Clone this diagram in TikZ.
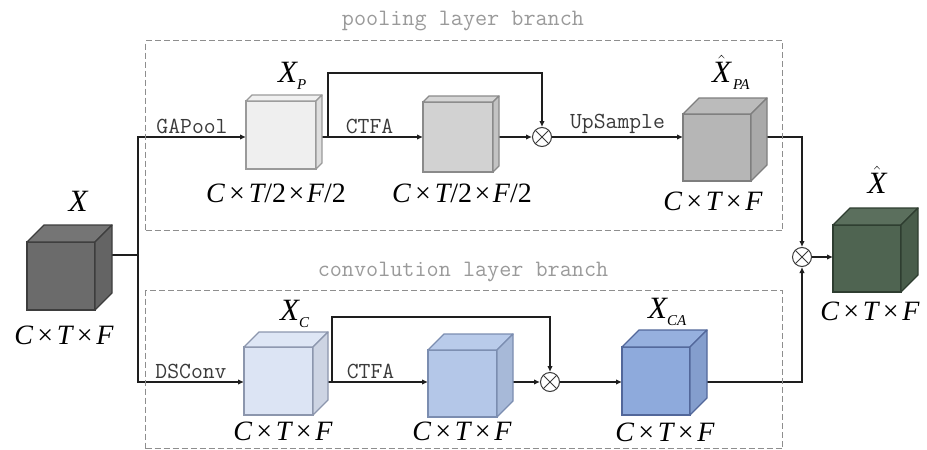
\documentclass[tikz,border=0pt]{standalone}
\usepackage{fontspec}
\setmainfont{Liberation Serif}
\usetikzlibrary{arrows.meta,backgrounds}

\definecolor{inkline}{HTML}{1E1E1E}
\definecolor{boxgray}{HTML}{8E8E8E}
\definecolor{titlegray}{HTML}{9A9A9A}
\definecolor{opgray}{HTML}{3A3A3A}
\definecolor{xinfill}{HTML}{6B6B6B}\definecolor{xinedge}{HTML}{3D3D3D}
\definecolor{xpfill}{HTML}{EFEFEF}\definecolor{xpedge}{HTML}{9A9A9A}
\definecolor{pcfill}{HTML}{D2D2D2}\definecolor{pcedge}{HTML}{8A8A8A}
\definecolor{xpafill}{HTML}{B6B6B6}\definecolor{xpaedge}{HTML}{7E7E7E}
\definecolor{outfill}{HTML}{4F6451}\definecolor{outedge}{HTML}{2E3D30}
\definecolor{xcfill}{HTML}{DCE4F4}\definecolor{xcedge}{HTML}{8C96AD}
\definecolor{ccfill}{HTML}{B4C7E8}\definecolor{ccedge}{HTML}{7B8DB0}
\definecolor{xcafill}{HTML}{8EAADC}\definecolor{xcaedge}{HTML}{52679A}

% sub-index set low and small, as in X_P
\newcommand\lowidx[1]{\raisebox{-7pt}{\fontsize{15}{15}\selectfont\itshape #1}}
\newcommand\hatX{$\hat{\mbox{\itshape X}}$}
\newcommand\dimsep{\hspace{2.5pt}×\hspace{2.5pt}}

% cube: name, x, y of front top-left corner, width, height, depth, fill, edge
\newcommand\cubebox[8]{%
  \node[cubeface, fill=#7, draw=#8, minimum width=#4pt, minimum height=#5pt] (#1) at (#2,#3) {};
  \draw[cubeedge, fill=#7!93!white, draw=#8] (#1.north west) -- ++(#6,-#6) -- ++(#4,0) -- (#1.north east) -- cycle;
  \draw[cubeedge, fill=#7!93!black, draw=#8] (#1.north east) -- ++(#6,-#6) -- ++(0,#5) -- (#1.south east) -- cycle;
}

\begin{document}
\begin{tikzpicture}[x=1pt,y=-1pt,
  cubeface/.style={rectangle, anchor=north west, inner sep=0pt, outer sep=0pt, line width=1.3pt},
  cubeedge/.style={line width=1.3pt, line join=round},
  conn/.style={draw=inkline, line width=1.8pt},
  arr/.style={conn, -{Latex[length=6pt,width=5.5pt]}},
  mulop/.style={circle, draw=opgray, line width=1pt, minimum size=19pt, inner sep=0pt, fill=white,
    path picture={\draw[opgray, line width=1pt]
      (path picture bounding box.north west) -- (path picture bounding box.south east)
      (path picture bounding box.north east) -- (path picture bounding box.south west);}},
  branchbox/.style={draw=boxgray, line width=1.1pt, dash pattern=on 6pt off 3pt, anchor=north west, inner sep=0pt},
  branchtitle/.style={text=titlegray, font=\ttfamily\fontsize{23.5}{23.5}\selectfont, inner sep=0pt},
  oplabel/.style={text=opgray, font=\ttfamily\fontsize{23}{23}\selectfont, inner sep=2pt, above},
  dimlabel/.style={font=\fontsize{28}{28}\selectfont, inner sep=0pt},
  namelabel/.style={font=\fontsize{31}{31}\selectfont, inner sep=0pt}]

\useasboundingbox (0,0) rectangle (927,450);

% branch frames and their titles
\node[branchbox, minimum width=637pt, minimum height=190pt] (poolbox) at (145,40) {};
\node[branchtitle] (pooltitle) at (463,21) {pooling layer branch};
\node[branchbox, minimum width=637pt, minimum height=158pt] (convbox) at (145,290) {};
\node[branchtitle] (convtitle) at (463,272) {convolution layer branch};

% feature maps
\cubebox{xin}{27}{242}{68}{68}{17}{xinfill}{xinedge}
\cubebox{xp}{246}{101}{70}{68}{6}{xpfill}{xpedge}
\cubebox{pc}{423}{102}{70}{70}{6}{pcfill}{pcedge}
\cubebox{xpa}{683}{114}{68}{67}{16}{xpafill}{xpaedge}
\cubebox{out}{833}{225}{68}{67}{17}{outfill}{outedge}
\cubebox{xc}{244}{347}{69}{68}{15}{xcfill}{xcedge}
\cubebox{cc}{428}{350}{69}{67}{16}{ccfill}{ccedge}
\cubebox{xca}{622}{347}{68}{68}{17}{xcafill}{xcaedge}

% element-wise products
\node[mulop] (pmul) at (542,137) {};
\node[mulop] (cmul) at (550,382) {};
\node[mulop] (omul) at (802,257) {};

% names and sizes
\node[namelabel] (xinname) at (78,201) {\itshape X};
\node[dimlabel] (xindim) at (64,335) {\itshape C\dimsep T\dimsep F};
\node[namelabel, anchor=base west] (xpname) at (278,82) {\itshape X\lowidx{P}};
\node[dimlabel] (xpdim) at (276,193) {\itshape C\dimsep T\upshape/2\dimsep\itshape F\upshape/2};
\node[dimlabel] (pcdim) at (462,193) {\itshape C\dimsep T\upshape/2\dimsep\itshape F\upshape/2};
\node[namelabel, anchor=base west] (xpaname) at (712,82) {\hatX\hspace{2pt}\lowidx{PA}};
\node[dimlabel] (xpadim) at (713,201) {\itshape C\dimsep T\dimsep F};
\node[namelabel] (outname) at (877,180) {\hatX};
\node[dimlabel] (outdim) at (870,311) {\itshape C\dimsep T\dimsep F};
\node[namelabel, anchor=base west] (xcname) at (280,320) {\itshape X\lowidx{C}};
\node[dimlabel] (xcdim) at (283,431) {\itshape C\dimsep T\dimsep F};
\node[dimlabel] (ccdim) at (462,431) {\itshape C\dimsep T\dimsep F};
\node[namelabel, anchor=base west] (xcaname) at (648,318) {\itshape X\lowidx{CA}};
\node[dimlabel] (xcadim) at (665,432) {\itshape C\dimsep T\dimsep F};

% connectors, kept under the cubes
\coordinate (split) at (138,255);
\coordinate (poolrow) at (0,137);
\coordinate (convrow) at (0,382);
\coordinate (ptap) at (328,137);
\coordinate (ctap) at (332,382);
\begin{pgfonlayer}{background}
  \draw[conn] (xin.east |- split) -- (split);
  \draw[arr] (split) |- (xp.west |- poolrow) node[oplabel, pos=0.75] (gapool) {GAPool};
  \draw[arr] (xp.east |- poolrow) -- (pc.west |- poolrow) node[oplabel, midway] (pctfa) {CTFA};
  \draw[arr] (ptap) -- ++(0,-64) -| (pmul.north);
  \draw[arr] (pc.east |- poolrow) -- (pmul.west);
  \draw[arr] (pmul.east) -- (xpa.west |- poolrow) node[oplabel, midway] (upsample) {UpSample};
  \draw[arr] (xpa.east |- poolrow) -| (omul.north);
  \draw[arr] (omul.east) -- (out.west |- omul);
  \draw[arr] (split) |- (xc.west |- convrow) node[oplabel, pos=0.75] (dsconv) {DSConv};
  \draw[arr] (xc.east |- convrow) -- (cc.west |- convrow) node[oplabel, midway] (cctfa) {CTFA};
  \draw[arr] (ctap) -- ++(0,-65) -| (cmul.north);
  \draw[arr] (cc.east |- convrow) -- (cmul.west);
  \draw[arr] (cmul.east) -- (xca.west |- convrow);
  \draw[arr] (xca.east |- convrow) -| (omul.south);
\end{pgfonlayer}
\end{tikzpicture}
\end{document}
